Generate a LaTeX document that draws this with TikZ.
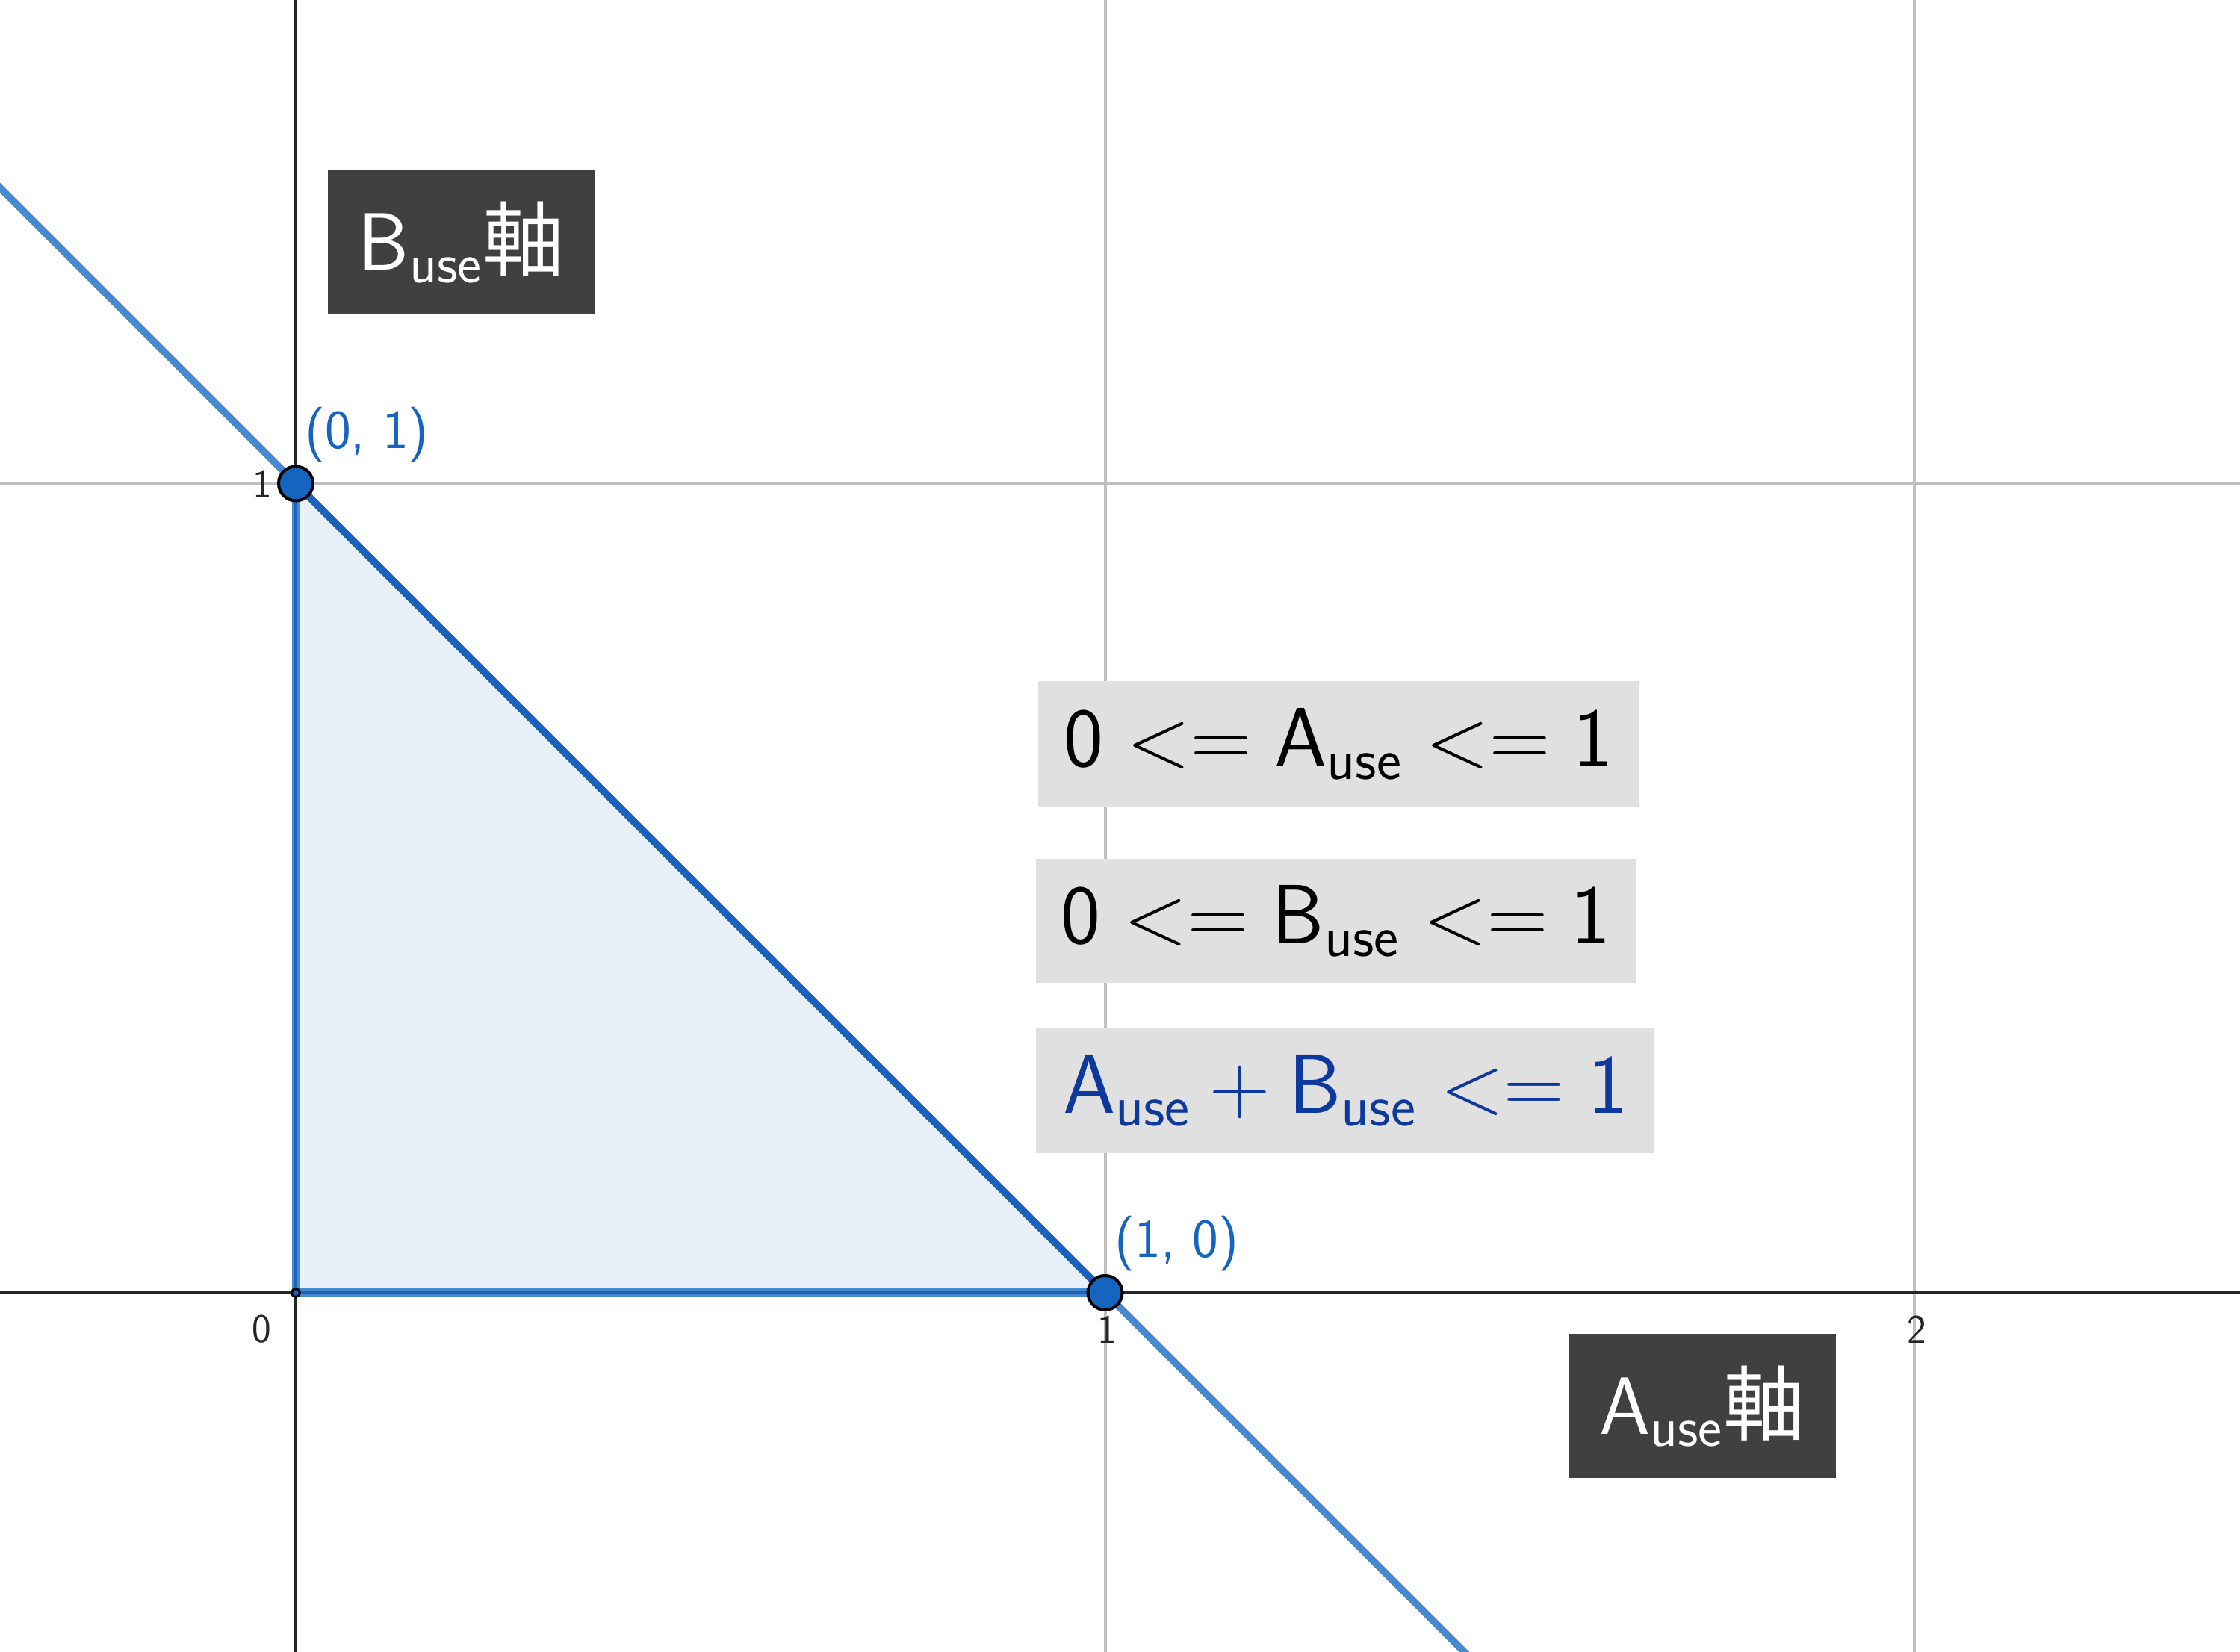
\RequirePackage{fix-cm}
\documentclass[tikz,border=0pt]{standalone}
\usepackage{fontspec}
\newfontfamily\cjk{Noto Sans CJK JP}
\definecolor{gridc}{RGB}{192,192,192}
\definecolor{axisc}{RGB}{37,37,37}
\definecolor{linec}{RGB}{72,136,206}
\definecolor{edgec}{RGB}{27,98,188}
\definecolor{ptc}{RGB}{21,101,192}
\definecolor{fillc}{RGB}{232,240,250}
\definecolor{eqbg}{RGB}{224,224,224}
\definecolor{eqblue}{RGB}{13,56,158}
\definecolor{darkbox}{RGB}{64,64,64}
\definecolor{tickc}{RGB}{37,37,37}
\tikzset{
  gridline/.style={gridc, line width=0.04cm},
  axisline/.style={axisc, line width=0.04cm},
  bigpt/.style={circle, fill=ptc, draw=black, line width=0.04cm, minimum size=0.46cm, inner sep=0pt},
  smallpt/.style={circle, fill=ptc, draw=black, line width=0.03cm, minimum size=0.11cm, inner sep=0pt},
  ticklbl/.style={text=tickc, inner sep=0pt, font=\sffamily\fontsize{15.5}{18}\selectfont},
  ptlbl/.style={text=ptc, inner sep=0pt, font=\sffamily\fontsize{21}{25}\selectfont},
  eqbox/.style={fill=eqbg, inner sep=0pt, font=\fontsize{32}{38}\selectfont},
  darklabel/.style={fill=darkbox, text=white, inner sep=0pt, minimum width=3.57cm, minimum height=1.93cm, font=\fontsize{31}{36}\selectfont}
}
\begin{document}
\begin{tikzpicture}
\useasboundingbox (0,0) rectangle (29.99,22.12);
\clip (0,0) rectangle (29.99,22.12);
\fill[white] (0,0) rectangle (29.99,22.12);
\begin{scope}[shift={(3.96,4.81)}, x=10.835cm, y=10.835cm]
  \coordinate (O) at (0,0);
  \coordinate (P) at (0,1);
  \coordinate (Q) at (1,0);
  \coordinate (gx1a) at (1,-1); \coordinate (gx1b) at (1,2);
  \coordinate (gx2a) at (2,-1); \coordinate (gx2b) at (2,2);
  \coordinate (gy1a) at (-1,1); \coordinate (gy1b) at (3,1);
  \coordinate (xl) at (-1,0); \coordinate (xr) at (3,0);
  \coordinate (yb) at (0,-1); \coordinate (yt) at (0,2);
  \coordinate (dl) at (-1,2); \coordinate (dr) at (2,-1);
  % grid
  \draw[gridline] (gx1a) -- (gx1b);
  \draw[gridline] (gx2a) -- (gx2b);
  \draw[gridline] (gy1a) -- (gy1b);
  % feasible region
  \fill[fillc] (O) -- (P) -- (Q) -- cycle;
  % axes
  \draw[axisline] (xl) -- (xr);
  \draw[axisline] (yb) -- (yt);
  % line x+y=1
  \draw[linec, line width=0.095cm] (dl) -- (dr);
  % triangle edges
  \draw[linec, line width=0.11cm] (P) -- (O) -- (Q);
  \draw[edgec, line width=0.045cm] (P) -- (O) -- (Q);
  \draw[edgec, line width=0.095cm] (P) -- (Q);
  % points
  \node[smallpt] (po) at (O) {};
  \node[bigpt] (p01) at (P) {};
  \node[bigpt] (p10) at (Q) {};
  % point labels
  \node[ptlbl] (l01) at (0.0877,1.0604) {(0, 1)};
  \node[ptlbl] (l10) at (1.0886,0.0605) {(1, 0)};
  % tick labels
  \node[ticklbl] (ty1) at (-0.0415,0.9991) {1};
  \node[ticklbl] (tx0) at (-0.0425,-0.0452) {0};
  \node[ticklbl] (tx1) at (1.0023,-0.0452) {1};
  \node[ticklbl] (tx2) at (2.0028,-0.0452) {2};
\end{scope}
% equation boxes
\node[eqbox, minimum width=8.04cm, minimum height=1.69cm] (eq1) at (17.92,12.155)
  {$\mathsf{0} <= \mathsf{A}_{\mathsf{use}} <= \mathsf{1}$};
\node[eqbox, minimum width=8.03cm, minimum height=1.66cm] (eq2) at (17.885,9.79)
  {$\mathsf{0} <= \mathsf{B}_{\mathsf{use}} <= \mathsf{1}$};
\node[eqbox, text=eqblue, minimum width=8.28cm, minimum height=1.67cm] (eq3) at (18.01,7.515)
  {$\mathsf{A}_{\mathsf{use}} + \mathsf{B}_{\mathsf{use}} <= \mathsf{1}$};
% axis name labels
\node[darklabel] (bax) at (6.175,18.875) {\raisebox{-0.09cm}{$\mathsf{B}_{\mathsf{use}}${\cjk 軸}}};
\node[darklabel] (aax) at (22.79,3.29) {\raisebox{-0.06cm}{$\mathsf{A}_{\mathsf{use}}${\cjk 軸}}};
\end{tikzpicture}
\end{document}
